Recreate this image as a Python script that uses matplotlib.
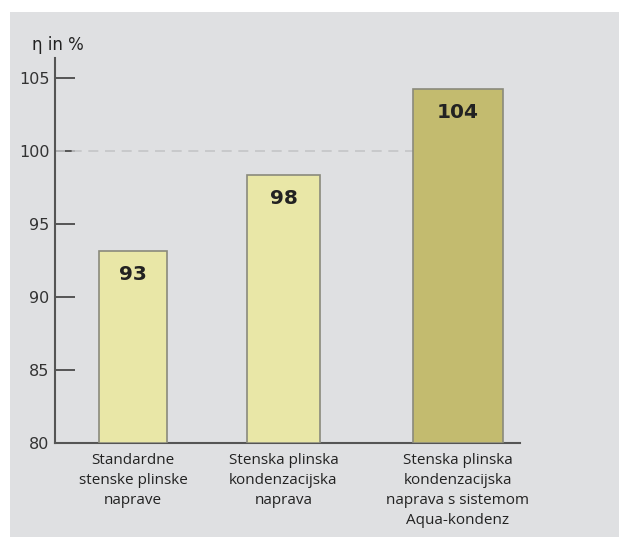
import matplotlib
matplotlib.use("Agg")
import matplotlib.pyplot as plt
from matplotlib.patches import Rectangle

categories = ["Standardne\nstenske plinske\nnaprave",
              "Stenska plinska\nkondenzacijska\nnaprava",
              "Stenska plinska\nkondenzacijska\nnaprava s sistemom\nAqua-kondenz"]
values = [93.2, 98.4, 104.3]
value_labels = ["93", "98", "104"]
yticks = [80, 85, 90, 95, 100, 105]

positions = [78, 228.5, 403]
widths = [68, 73, 90]
colors = ["#e9e7a7", "#e9e7a7", "#c3bb6f"]

fig = plt.figure(figsize=(6.19, 5.37), dpi=100, facecolor="white")
fig.patches.append(Rectangle((10/619, 0), 1, 525/537, transform=fig.transFigure,
                             facecolor="#dfe0e2", edgecolor="none", zorder=-10))
ax = fig.add_axes([55/619, 94/537, 465/619, 385/537])
ax.set_facecolor("none")
ax.set_zorder(5)

ax.bar(positions, [v - 80 for v in values], bottom=80, width=widths, color=colors,
       edgecolor="#8a8a7c", linewidth=1.2, zorder=3)
ax.plot([0, positions[2] - widths[2]/2], [100, 100], color="#c4c5c7", linestyle=(0, (6, 4)),
        linewidth=1.2, zorder=2)

for p, v, lab in zip(positions, values, value_labels):
    ax.annotate(lab, (p, v), xytext=(0, -17.5), textcoords="offset points",
                ha="center", va="center", fontsize=14.5, fontweight="bold",
                color="#222222", family="DejaVu Sans", zorder=4)

ax.set_xlim(0, 465)
ax.set_ylim(80, 106.4)
ax.set_yticks(yticks)
ax.set_yticklabels([str(t) for t in yticks], fontsize=11.5, color="#333333", family="DejaVu Sans")
ax.set_xticks(positions)
ax.set_xticklabels(categories, fontsize=11, color="#222222", family="Open Sans",
                   linespacing=1.47, va="top")
ax.tick_params(axis="x", length=0, pad=7)
ax.tick_params(axis="y", direction="in", length=14.5, width=1.4, color="#555555", pad=4)
for s in ["top", "right"]:
    ax.spines[s].set_visible(False)
for s in ["left", "bottom"]:
    ax.spines[s].set_color("#555555")
    ax.spines[s].set_linewidth(1.5)

fig.text(32/619, 1 - 45/537, "η in %", fontsize=12, color="#222222", family="DejaVu Sans",
         ha="left", va="center")

fig.savefig("out.png", dpi=100, facecolor="white")
